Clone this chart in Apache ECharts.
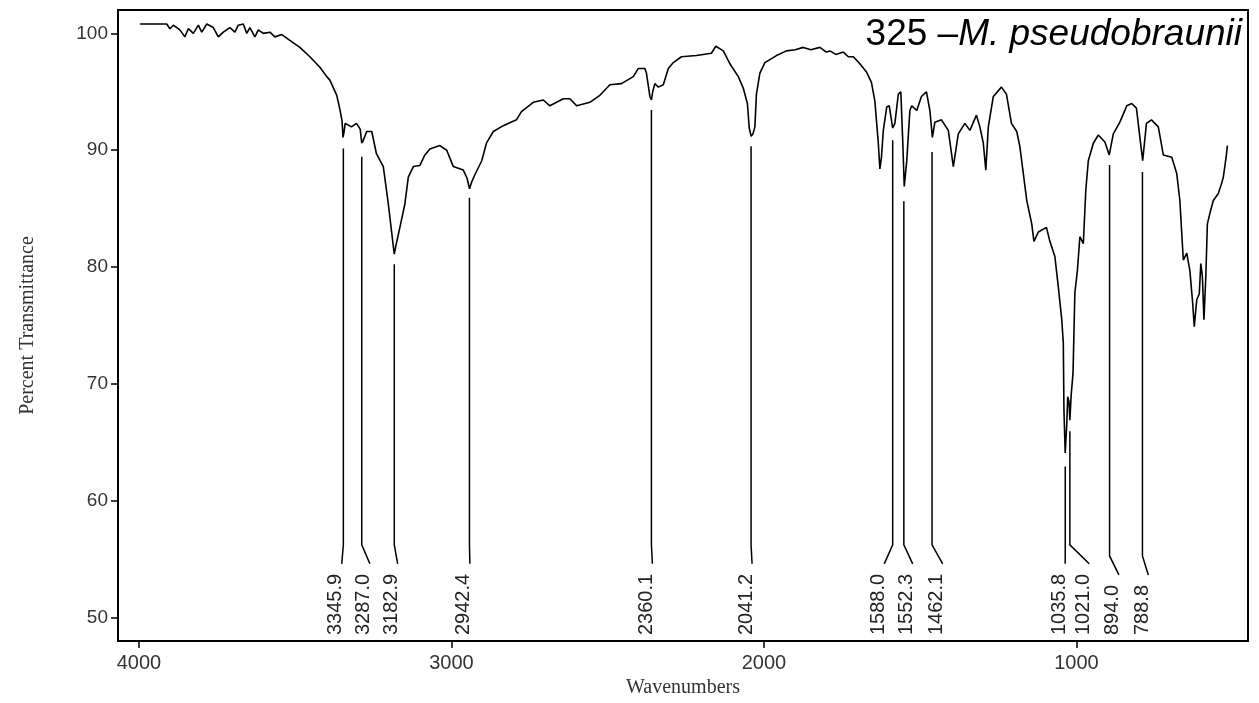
<!DOCTYPE html>
<html>
<head>
<meta charset="utf-8">
<script src="https://cdn.jsdelivr.net/npm/echarts@6/dist/echarts.min.js"></script>
<style>
html,body{margin:0;padding:0;background:#fff;}
#chart{width:1259px;height:703px;}
</style>
</head>
<body>
<div id="chart"></div>
<script>
// ---- data ----
const wavenumbers = [3997,3911,3901,3890,3869,3853,3842,3826,3810,3799,3783,3762,3746,3730,3709,3693,3682,3666,3655,3645,3629,3618,3602,3581,3565,3543,3517,3485,3453,3421,3399,3389,3367,3357,3350,3347,3344,3340,3335,3320,3304,3292,3287,3283,3271,3255,3240,3218,3202,3191,3183,3178,3165,3149,3138,3122,3101,3085,3069,3037,3015,2994,2962,2950,2942,2935,2925,2903,2888,2866,2834,2792,2776,2738,2706,2685,2642,2621,2599,2557,2525,2493,2456,2418,2402,2381,2376,2365,2360,2356,2349,2338,2322,2317,2306,2290,2264,2216,2168,2154,2130,2109,2082,2066,2053,2047,2041,2035,2029,2024,2013,1997,1960,1928,1900,1874,1850,1821,1800,1789,1770,1746,1730,1714,1693,1672,1656,1645,1634,1629,1624,1618,1607,1599,1588,1581,1570,1562,1556,1551,1543,1533,1527,1511,1496,1480,1469,1461,1453,1432,1410,1394,1378,1357,1341,1320,1309,1298,1290,1282,1266,1240,1224,1208,1191,1181,1170,1159,1143,1136,1122,1096,1085,1069,1058,1047,1042,1040,1036,1031,1028,1024,1021,1017,1011,1005,997,989,978,970,962,946,930,909,895,882,861,839,823,808,797,788,776,760,738,722,695,679,669,663,658,647,637,628,623,615,607,602,597,592,586,581,573,562,546,535,530,521,517];
const transmittance = [100.8,100.8,100.4,100.7,100.3,99.7,100.4,100.0,100.7,100.1,100.8,100.5,99.7,100.1,100.5,100.1,100.7,100.8,100.0,100.5,99.7,100.3,100.0,100.1,99.7,99.9,99.4,98.8,98.0,97.1,96.3,96.0,94.7,93.5,92.5,91.1,91.5,92.3,92.3,92.0,92.3,91.8,90.6,90.8,91.6,91.6,89.7,88.6,85.4,82.9,81.1,81.8,83.4,85.4,87.7,88.6,88.7,89.6,90.1,90.4,90.0,88.6,88.3,87.6,86.7,87.3,87.9,89.1,90.6,91.6,92.1,92.6,93.3,94.1,94.3,93.8,94.4,94.4,93.8,94.1,94.7,95.6,95.7,96.3,97.0,97.0,96.6,94.6,94.3,95.0,95.7,95.4,95.6,95.6,97.0,97.5,98.0,98.1,98.3,98.9,98.5,97.4,96.3,95.3,94.0,91.9,91.2,91.4,92.0,94.8,96.6,97.5,98.1,98.5,98.6,98.8,98.6,98.8,98.4,98.5,98.2,98.4,98.0,98.0,97.4,96.7,95.8,94.2,90.6,88.4,89.4,91.7,93.7,93.8,91.9,92.3,94.8,95.0,90.9,86.9,89.1,93.4,93.8,93.4,94.6,95.0,93.4,91.1,92.4,92.6,91.7,88.6,91.4,92.3,91.7,93.0,92.0,90.6,88.3,92.0,94.6,95.4,94.8,92.3,91.6,90.3,88.0,85.7,83.7,82.2,83.0,83.4,82.2,80.9,78.3,75.5,73.5,67.8,64.1,66.5,68.9,68.5,66.9,69.0,70.9,77.8,79.7,82.6,82.0,86.6,89.1,90.6,91.3,90.7,89.6,91.4,92.4,93.8,94.0,93.6,91.1,89.1,92.3,92.6,92.0,89.6,89.4,88.0,85.7,82.9,80.6,81.2,79.7,76.9,74.9,77.2,77.7,80.3,79.2,75.5,79.2,83.7,84.6,85.7,86.3,87.2,87.7,89.4,90.4];

const peakWavenumbers = [3345.9,3287.0,3182.9,2942.4,2360.1,2041.2,1588.0,1552.3,1462.1,1035.8,1021.0,894.0,788.8];
const peakLineTop     = [90.4,89.7,80.5,86.2,93.7,90.6,91.1,85.9,90.1,63.2,66.2,89.0,88.4];
const peakLabelAt     = [3351,3261,3172,2941,2357,2038,1615,1524,1428,1036,959,864,770];

const xTicks = [1000,2000,3000,4000];
const yTicks = [50,60,70,80,90,100];

const titleNumber = '325 –';
const titleSpecies = 'M. pseudobraunii';

// ---- chart ----
const chart = echarts.init(document.getElementById('chart'), null, {renderer:'canvas'});
const spectrum = wavenumbers.map((w,i)=>[w, transmittance[i]]);
const peaks = peakWavenumbers.map((w,i)=>[w, peakLineTop[i], peakLabelAt[i]]);

const labelFont = '20px "Liberation Sans", Arial, sans-serif';
const mctx = document.createElement('canvas').getContext('2d');
function textWidth(s){ mctx.font = labelFont; return mctx.measureText(s).width; }

chart.setOption({
  animation:false,
  backgroundColor:'#fff',
  grid:{left:118,right:11,top:10,bottom:62,show:true,borderColor:'#000',borderWidth:2,backgroundColor:'transparent'},
  xAxis:{
    type:'value', inverse:true, min:451, max:4067,
    name:'Wavenumbers', nameLocation:'middle', nameGap:37,
    nameTextStyle:{fontFamily:'"Liberation Serif", serif', fontSize:20, color:'#333'},
    axisLine:{show:true,onZero:false,lineStyle:{color:'#000',width:2}},
    axisTick:{show:true,length:7,customValues:xTicks,lineStyle:{color:'#000',width:1.5}},
    axisLabel:{customValues:xTicks,margin:12,formatter:v=>String(v),fontFamily:'"Liberation Sans", Arial, sans-serif',fontSize:20,color:'#333'},
    splitLine:{show:false}
  },
  yAxis:{
    type:'value', min:48, max:102,
    name:'Percent Transmittance', nameLocation:'middle', nameGap:80, nameRotate:90,
    nameTextStyle:{fontFamily:'"Liberation Serif", serif', fontSize:20, color:'#333'},
    axisLine:{show:true,onZero:false,lineStyle:{color:'#000',width:2}},
    axisTick:{show:true,length:7,customValues:yTicks,lineStyle:{color:'#000',width:1.5}},
    axisLabel:{customValues:yTicks,margin:10,formatter:v=>String(v),fontFamily:'"Liberation Sans", Arial, sans-serif',fontSize:19,color:'#333'},
    splitLine:{show:false}
  },
  graphic:[{
    type:'text', right:17, top:16,
    style:{
      text:'{a|'+titleNumber+'}{b|'+titleSpecies+'}',
      rich:{
        a:{fontFamily:'"Liberation Sans", Arial, sans-serif',fontSize:37,fill:'#000'},
        b:{fontFamily:'"Liberation Sans", Arial, sans-serif',fontSize:37,fontStyle:'italic',fill:'#000'}
      }
    }
  }],
  series:[
    {
      type:'line', data:spectrum, showSymbol:false, symbol:'none',
      lineStyle:{color:'#000',width:1.6}, z:3, silent:true
    },
    {
      type:'custom', data:peaks, clip:false, silent:true, z:4,
      encode:{x:0,y:1},
      renderItem:function(params, api){
        const wn = api.value(0), top = api.value(1), lw = api.value(2);
        const p0 = api.coord([wn, top]);
        const lx = api.coord([lw, top])[0];
        const bottomY = api.coord([wn, 48])[1] - 6;
        const txt = wn.toFixed(1);
        const w = textWidth(txt);
        const labelTop = bottomY - w;
        const endY = labelTop - 10;
        const kinkY = endY - 19;
        return {
          type:'group',
          children:[
            {type:'polyline', shape:{points:[[p0[0],p0[1]+3],[p0[0],kinkY],[lx,endY]]},
             style:{stroke:'#000',lineWidth:1.5,fill:null}},
            {type:'text', x:lx-6, y:bottomY, rotation:Math.PI/2,
             style:{text:txt, font:labelFont, fill:'#222', align:'left', verticalAlign:'middle'}}
          ]
        };
      }
    }
  ]
});
</script>
</body>
</html>
